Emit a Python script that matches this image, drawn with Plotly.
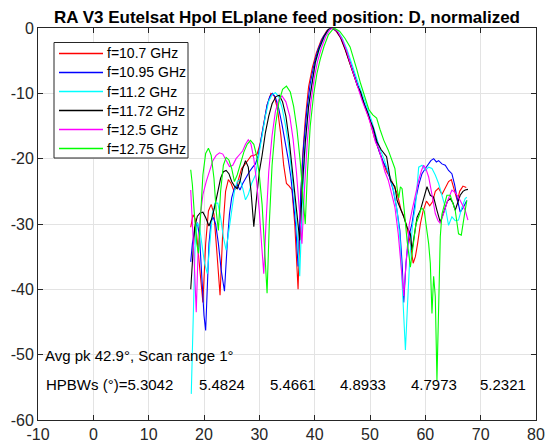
import plotly.graph_objects as go

# ---------------- data ----------------
labels = ["f=10.7 GHz", "f=10.95 GHz", "f=11.2 GHz", "f=11.72 GHz", "f=12.5 GHz", "f=12.75 GHz"]
colors = ["#FF0000", "#0000FF", "#00FFFF", "#000000", "#FF00FF", "#00FF00"]

red_pts = [(17.6,-30.5),(18.0,-28.6),(18.4,-29.2),(18.8,-33),(19.3,-38),(19.8,-42),(20.3,-33),(20.8,-28),
           (21.3,-27),(21.8,-28.5),(22.3,-34),(22.9,-40.9),(23.4,-31),(23.9,-25),(24.4,-23.2),(24.9,-23.8),
           (25.4,-24.9),(25.8,-24.5),(26.3,-23),(26.8,-21.5),(27.3,-21),(27.9,-20.2),(28.5,-19.6),(29.0,-19.5),
           (29.6,-19.3),(30.2,-17.5),(30.8,-14.5),(31.4,-11.8),(32.1,-10),(32.7,-10.4),(33.3,-12.5),(33.9,-16.5),
           (34.4,-21),(34.9,-23.8),(35.4,-24.2),(35.9,-24.8),(36.4,-30),(37.0,-40),(37.4,-28),(37.8,-20),
           (38.3,-14),(38.9,-9),(39.6,-6),(40.3,-3.8),(41.2,-1.8),(42.2,-0.4),(43.0,0),(43.8,-0.4),
           (44.6,-1.4),(45.5,-3.3),(46.3,-5.3),(47.0,-7),(47.8,-9),(48.5,-10.8),(49.2,-12.5),(50.0,-14.3),
           (50.8,-16.8),(51.5,-18.5),(52.3,-20.5),(53.0,-22),(53.6,-22.8),(54.2,-24),(54.9,-25.3),(55.6,-27.8),
           (56.2,-29),(56.8,-31),(57.3,-33),(57.8,-36),(58.2,-35),(58.6,-33),(59.1,-30),(59.6,-28),
           (60.2,-26.5),(60.8,-27.2),(61.3,-26.6),(61.8,-25),(62.4,-24.5),(63.0,-25.5),(63.6,-24.5),(64.2,-23.5),
           (64.7,-23.2),(65.2,-24.8),(65.8,-26.5),(66.2,-25),(66.8,-24.2),(67.4,-24.4)]

blue_pts = [(17.6,-35.8),(17.9,-33),(18.3,-31),(18.8,-29.8),(19.2,-32),(19.6,-38),(20.0,-44),(20.3,-46.3),
            (20.6,-40),(20.9,-33),(21.3,-29.5),(21.7,-29),(22.1,-30),(22.6,-33),(23.1,-37),(23.7,-40.3),
            (24.2,-33),(24.6,-28.5),(25.0,-26),(25.5,-24.5),(26.0,-24),(26.5,-24.8),(27.0,-23.8),(27.6,-22.8),
            (28.2,-22),(28.8,-21.3),(29.3,-20.8),(29.8,-19.5),(30.3,-17),(30.8,-14.3),(31.4,-11.8),(31.9,-10.5),
            (32.4,-10),(32.9,-10.6),(33.5,-12.3),(34.1,-14.8),(34.7,-17.5),(35.2,-20),(35.7,-22.8),(36.2,-26.5),
            (36.6,-30.4),(37.0,-36.5),(37.5,-25),(38.0,-18),(38.6,-12.5),(39.2,-8.5),(39.9,-5.5),(40.6,-3.3),
            (41.5,-1.4),(42.4,-0.3),(43.2,0),(44.0,-0.5),(44.8,-1.6),(45.7,-3.4),(46.5,-5.5),(47.3,-7.5),
            (48.0,-9.3),(48.7,-11),(49.4,-12.4),(50.2,-14.5),(51.0,-17),(51.7,-19),(52.4,-20.5),(53.0,-21.5),
            (53.6,-23),(54.2,-24.8),(54.8,-27.5),(55.4,-31),(55.8,-36),(56.1,-42),(56.5,-36),(57.0,-32),
            (57.6,-29.9),(58.2,-26.5),(58.8,-24),(59.4,-22.3),(60.0,-21.5),(60.6,-20.8),(61.0,-20.3),(61.5,-20),
            (62.0,-20.5),(62.4,-20.3),(63.0,-20.8),(63.6,-21),(64.2,-21.8),(64.8,-22.3),(65.3,-24),(65.7,-25.9),
            (66.3,-28.2),(66.9,-27.4),(67.5,-26.4)]

cyan_pts = [(17.7,-56),(17.9,-48),(18.1,-40),(18.4,-33),(18.8,-29.8),(19.2,-30.5),(19.6,-33),(20.1,-36),
            (20.6,-37.6),(21.0,-33),(21.5,-28.5),(22.0,-26.8),(22.5,-26.8),(23.0,-29),(23.5,-32),(24.0,-34),
            (24.5,-31),(25.0,-27.5),(25.5,-25),(26.0,-23.5),(26.5,-23.2),(27.0,-24.5),(27.5,-26.3),(28.0,-25.5),
            (28.6,-23.8),(29.3,-22.5),(29.9,-19.5),(30.5,-16.6),(31.1,-13.5),(31.7,-11.2),(32.3,-10.2),(32.9,-9.9),
            (33.5,-10.5),(34.1,-12.2),(34.7,-14.8),(35.3,-18),(35.8,-21.5),(36.3,-25.5),(36.8,-31),(37.3,-38),
            (37.8,-26),(38.3,-18),(38.9,-12),(39.5,-8.3),(40.2,-5.2),(40.9,-3.1),(41.8,-1.3),(42.6,-0.2),
            (43.3,0),(44.1,-0.4),(44.9,-1.4),(45.8,-3.2),(46.6,-5.2),(47.4,-7.3),(48.1,-9),(48.8,-10.6),
            (49.5,-12.2),(50.3,-14.2),(51.1,-16.5),(51.8,-18.5),(52.5,-20),(53.1,-21.5),(53.7,-23),(54.3,-25),
            (54.9,-28),(55.4,-32),(55.9,-40),(56.4,-49.3),(56.8,-42),(57.2,-35),(57.7,-30),(58.2,-27.4),
            (58.8,-21.3),(59.4,-21),(60.0,-21.8),(60.6,-21.3),(61.2,-21.5),(61.8,-22.5),(62.4,-23.8),(63.0,-25.5),
            (63.6,-27.4),(64.2,-30.2),(64.8,-28.9),(65.4,-29.5),(66.0,-29.4),(66.6,-27.5),(67.2,-26.1),(67.5,-25.9)]

black_pts = [(17.6,-40),(17.9,-35),(18.3,-30.5),(18.8,-28.8),(19.3,-28.3),(19.8,-28.2),(20.3,-29),(20.9,-30.3),
             (21.4,-29.2),(21.9,-27.5),(22.4,-25.5),(23.0,-23),(23.5,-22),(24.0,-21.8),(24.5,-22.3),(25.0,-23.5),
             (25.5,-24.2),(26.0,-24.6),(26.5,-23.5),(27.0,-21.5),(27.5,-20.3),(28.0,-21.3),(28.5,-25),(29.0,-30.4),
             (29.5,-26),(30.0,-22),(30.5,-19.5),(31.1,-16),(31.7,-13.5),(32.3,-11.6),(33.0,-10.5),(33.6,-10.3),
             (34.2,-11.3),(34.8,-13.5),(35.4,-17.2),(35.9,-21),(36.4,-25),(36.9,-29),(37.3,-32.5),(37.8,-24),
             (38.3,-17.5),(38.9,-12),(39.5,-8.3),(40.1,-5.3),(40.8,-3.2),(41.7,-1.3),(42.5,-0.2),(43.3,0),
             (44.0,-0.5),(44.8,-1.6),(45.6,-3.4),(46.3,-5.3),(47.0,-7.2),(47.7,-8.8),(48.3,-9.8),(49.0,-11.8),
             (49.6,-13),(50.0,-14.1),(50.6,-15.3),(51.3,-17.5),(52.0,-18.6),(52.6,-19.2),(53.0,-19.7),(53.7,-23.3),
             (54.5,-24.3),(54.9,-26.4),(55.7,-27.9),(56.1,-28.9),(56.7,-30.5),(57.3,-31.5),(57.6,-34),(58.0,-32),
             (58.5,-29),(59.1,-27.9),(59.7,-26),(60.3,-24.3),(60.9,-25.6),(61.5,-25.9),(62.1,-27.9),(62.7,-29.7),
             (63.2,-28.5),(63.6,-27.4),(64.0,-26.5),(64.5,-26.1),(65.0,-26.8),(65.4,-27.9),(65.9,-26.5),(66.3,-25.6),
             (66.8,-25),(67.2,-24.8),(67.7,-24.7)]

magenta_pts = [(17.6,-24.8),(17.9,-29),(18.2,-35),(18.6,-43.5),(18.9,-35),(19.3,-29),(19.8,-25.5),(20.4,-23.5),
               (21.0,-21.7),(21.6,-20.3),(22.2,-19.5),(22.8,-19.1),(23.4,-19.3),(24.0,-20.3),(24.6,-21.2),(25.2,-21),
               (25.8,-20),(26.4,-19.4),(27.0,-18.8),(27.5,-17.8),(28.0,-17.1),(28.5,-17.8),(29.0,-20),(29.5,-23.5),
               (30.0,-28),(30.4,-33),(30.8,-37.6),(31.2,-30),(31.7,-22),(32.3,-16.5),(32.9,-12.8),(33.5,-11),
               (34.1,-10.4),(34.8,-11.3),(35.5,-13.5),(36.1,-17),(36.7,-22),(37.2,-27.5),(37.7,-33),(38.2,-24),
               (38.7,-17),(39.3,-11.5),(39.9,-7.8),(40.5,-5.2),(41.2,-3.1),(42.0,-1.3),(42.8,-0.2),(43.4,0),
               (44.2,-0.6),(45.0,-1.8),(45.8,-3.6),(46.5,-5.6),(47.2,-7.6),(47.9,-9.5),(48.6,-11.2),(49.2,-12.5),
               (49.7,-13.6),(50.4,-15.5),(51.0,-17.5),(51.6,-18.5),(52.1,-20.3),(52.7,-22),(53.3,-23.3),(53.9,-25.5),
               (54.5,-27.4),(55.1,-31.5),(55.6,-36),(56.1,-41),(56.6,-35),(57.1,-30),(57.6,-27.9),(58.2,-25.5),
               (58.8,-23.3),(59.3,-21.8),(59.7,-21),(60.2,-21.8),(60.6,-22.8),(61.2,-25.5),(61.8,-28.4),(62.3,-29.5),
               (62.7,-29.9),(63.3,-28.4),(64.0,-26.5),(64.8,-24.8),(65.4,-25.2),(66.0,-25.9),(66.6,-27),(67.2,-27.9),
               (67.7,-29.4)]

green_pts = [(17.6,-21.7),(17.9,-24),(18.3,-29),(18.7,-33),(19.0,-34.5),(19.4,-28),(19.8,-22.5),(20.3,-19.2),
             (20.8,-18.4),(21.3,-19.5),(21.8,-23),(22.2,-28),(22.6,-31),(23.0,-25),(23.5,-21),(24.0,-19.8),
             (24.5,-20.2),(25.0,-21.5),(25.5,-23.5),(26.0,-22.5),(26.6,-20.8),(27.2,-19),(27.8,-17.8),(28.4,-17.2),
             (29.0,-17.8),(29.5,-19.5),(30.0,-22.5),(30.5,-27),(30.9,-33),(31.4,-40.6),(31.8,-30),(32.3,-21),
             (32.9,-15),(33.5,-11.5),(34.2,-9.4),(34.9,-8.9),(35.6,-9.8),(36.2,-12),(36.8,-15.5),(37.4,-20.5),
             (37.9,-26),(38.3,-30),(38.7,-22),(39.2,-15),(39.8,-10.3),(40.4,-7),(41.0,-4.8),(41.7,-2.8),
             (42.5,-1),(43.5,0),(44.5,-0.5),(45.5,-1.6),(46.4,-2.9),(47.0,-4.5),(47.6,-6.3),(48.3,-8.5),
             (49.0,-10.5),(49.8,-12.5),(50.5,-13.3),(51.2,-13.8),(51.8,-15.5),(52.5,-17.2),(53.3,-18.7),(54.0,-20.5),
             (54.5,-21.5),(54.9,-24.5),(55.2,-26),(55.5,-24.3),(55.8,-24.6),(56.2,-28),(56.7,-32.5),(57.3,-36.6),
             (57.8,-33),(58.3,-30),(58.8,-28.9),(59.3,-27.5),(59.8,-28),(60.3,-30.9),(60.6,-33),(60.9,-36),
             (61.2,-43.7),(61.5,-38),(61.8,-41.1),(62.1,-53.9),(62.4,-41.1),(62.7,-32),(63.0,-28.5),(63.3,-27.5),
             (63.9,-25.6),(64.5,-25.6),(65.0,-26.8),(65.4,-27.9),(66.0,-31.5),(66.5,-31.7),(67.1,-28.4),(67.5,-26.4)]

series = [red_pts, blue_pts, cyan_pts, black_pts, magenta_pts, green_pts]

x_ticks = [-10, 0, 10, 20, 30, 40, 50, 60, 70, 80]
y_ticks = [-60, -50, -40, -30, -20, -10, 0]

title_text = "RA V3 Eutelsat Hpol ELplane feed position: D, normalized"
avg_text = "Avg pk 42.9°, Scan range 1°"
hpbw_prefix = "HPBWs (°)="
hpbw_values = ["5.3042", "5.4824", "5.4661", "4.8933", "4.7973", "5.2321"]
hpbw_x = [-8.9, 18.8, 31.5, 44.3, 57.0, 69.6]

FONT = "Liberation Sans, Arial, Helvetica, sans-serif"

# figure / plot-area geometry (pixels)
W, H = 547, 448
ML, MR, MT, MB = 38, 11, 28, 28
PW, PH = W - ML - MR, H - MT - MB


def px_x(px):
    return (px - ML) / PW


def px_y(py):
    return (H - MB - py) / PH


fig = go.Figure()
for pts, name, col in zip(series, labels, colors):
    fig.add_trace(go.Scatter(
        x=[p[0] for p in pts], y=[p[1] for p in pts],
        mode="lines", name=name, line=dict(color=col, width=1.1),
        showlegend=False, hoverinfo="skip",
    ))

annotations = [dict(x=-9.1, y=-50.2, xref="x", yref="y", text=avg_text, showarrow=False,
                    xanchor="left", yanchor="middle", font=dict(family=FONT, size=15, color="#000000"))]
for i, (val, xv) in enumerate(zip(hpbw_values, hpbw_x)):
    txt = (hpbw_prefix + val) if i == 0 else val
    annotations.append(dict(x=xv, y=-54.6, xref="x", yref="y", text=txt, showarrow=False,
                            xanchor="left", yanchor="middle",
                            font=dict(family=FONT, size=15, color="#000000")))

# manual legend box (drawn like MATLAB's legend)
shapes = [dict(type="rect", xref="paper", yref="paper",
               x0=px_x(54), x1=px_x(188), y0=px_y(158), y1=px_y(42.5),
               line=dict(color="#262626", width=1), fillcolor="white", layer="above")]
for i, (name, col) in enumerate(zip(labels, colors)):
    yy = px_y(53.5 + 19 * i)
    shapes.append(dict(type="line", xref="paper", yref="paper",
                       x0=px_x(59), x1=px_x(103), y0=yy, y1=yy,
                       line=dict(color=col, width=1.6), layer="above"))
    annotations.append(dict(x=px_x(104.5), y=yy, xref="paper", yref="paper", text=name,
                            showarrow=False, xanchor="left", yanchor="middle",
                            font=dict(family=FONT, size=14, color="#000000")))

axis_common = dict(showline=True, linecolor="#262626", linewidth=1, mirror="ticks",
                   ticks="inside", ticklen=5, tickcolor="#262626", automargin=False,
                   showgrid=True, gridcolor="#e3e3e3", gridwidth=1, zeroline=False,
                   tickfont=dict(family=FONT, size=16, color="#262626"))

fig.update_layout(
    width=W, height=H,
    margin=dict(l=ML, r=MR, t=MT, b=MB, autoexpand=False),
    paper_bgcolor="white", plot_bgcolor="white",
    title=dict(text="<b>" + title_text + "</b>", x=0.5, xref="paper", xanchor="center",
               y=1 - 17 / H, yref="container", yanchor="middle",
               font=dict(family=FONT, size=17, color="#000000")),
    xaxis=dict(range=[-10, 80], tickvals=x_ticks, ticktext=[str(v) for v in x_ticks], **axis_common),
    yaxis=dict(range=[-60, 0], tickvals=y_ticks, ticktext=[str(v) for v in y_ticks], **axis_common),
    annotations=annotations,
    shapes=shapes,
    showlegend=False,
    hovermode=False,
)

fig.write_html("out.html", config={"displayModeBar": False, "staticPlot": True},
               post_script="document.body.style.margin='0';document.body.style.padding='0';")
